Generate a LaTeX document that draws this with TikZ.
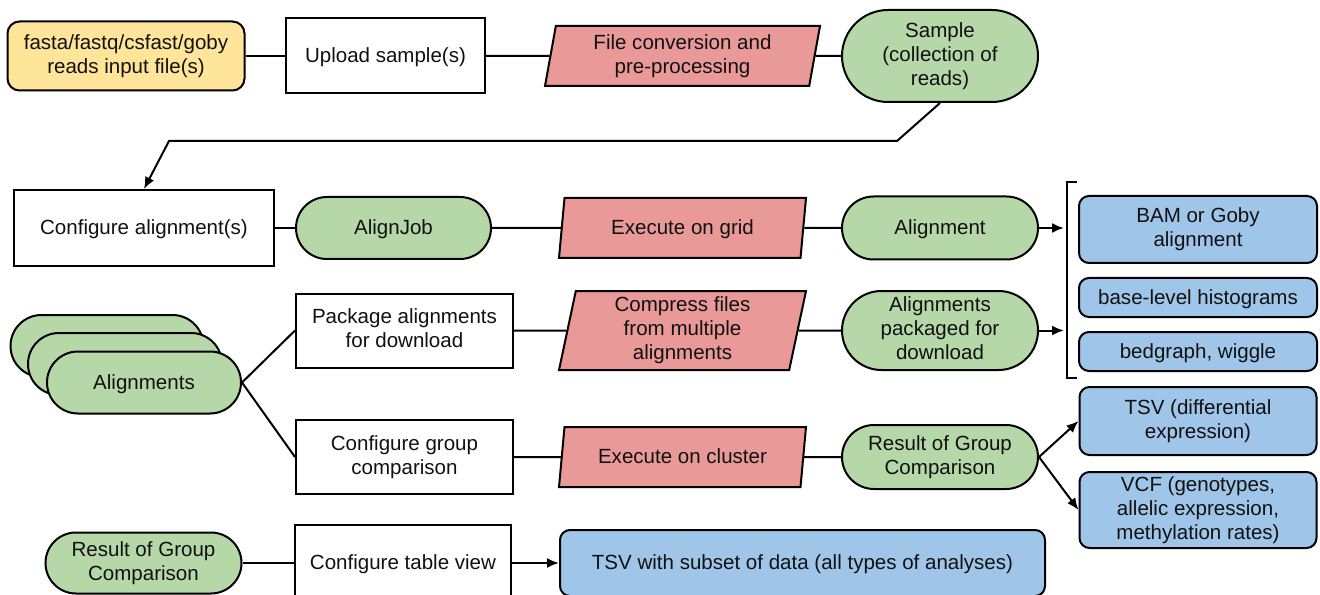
\documentclass[tikz,border=0pt]{standalone}
\usepackage{fontspec}
\setmainfont{Liberation Sans}
\usetikzlibrary{arrows.meta,shapes.geometric}
\definecolor{cyel}{HTML}{FFE599}
\definecolor{cred}{HTML}{EA9999}
\definecolor{cgrn}{HTML}{B6D7A8}
\definecolor{cblu}{HTML}{9FC5E8}
\definecolor{ctxt}{HTML}{111111}
\begin{document}
\begin{tikzpicture}[x=0.75pt,y=-0.75pt,
  every node/.style={font=\fontsize{15.4}{18}\selectfont, align=center, inner sep=0pt, line width=1.5pt, text=ctxt,
    execute at begin node={\rule{0pt}{13.2pt}}, execute at end node={\rule[-3.3pt]{0pt}{0pt}}},
  sz/.style 2 args={minimum width=#1*0.75pt, minimum height=#2*0.75pt},
  inbox/.style={draw, fill=cyel, rounded corners=9pt},
  whitebox/.style={draw, fill=white},
  procbox/.style={draw, fill=cred, trapezium, trapezium left angle=75.96, trapezium right angle=104.04, trapezium stretches body},
  term/.style={draw, fill=cgrn, rounded corners=#1*0.375pt},
  outbox/.style={draw, fill=cblu, rounded corners=7.5pt},
  conn/.style={line width=1.5pt},
  arr/.style={conn, -{Latex[length=9pt,width=7.5pt]}},
]
\useasboundingbox (0,0) rectangle (1320,595);
\fill[white] (0,0) rectangle (1320,595);

% row 1
\node[inbox, sz={237}{69}] (inp) at (126,56) {fasta/fastq/csfast/goby\\reads input file(s)};
\node[whitebox, sz={199}{75}] (up) at (385.5,56) {Upload sample(s)};
\node[procbox, sz={275}{60}] (conv) at (682.5,56) {File conversion and\\pre-processing};
\node[term=92, sz={196}{92}] (samp) at (940,56) {Sample\\(collection of\\reads)};

% row 2
\node[whitebox, sz={260}{76}] (cfg) at (144,228) {Configure alignment(s)};
\node[term=62, sz={195}{62}] (job) at (393.5,228) {AlignJob};
\node[procbox, sz={247}{60}] (grid) at (682.5,228) {Execute on grid};
\node[term=63, sz={196}{63}] (aln) at (940,228) {Alignment};

% outputs of alignment
\node[outbox, sz={238}{67}] (bam) at (1198,229.5) {BAM or Goby\\alignment};
\node[outbox, sz={238}{39}] (hist) at (1198,297.5) {base-level histograms};
\node[outbox, sz={238}{39}] (bed) at (1198,351.5) {bedgraph, wiggle};

% row 3
\node[whitebox, sz={217}{74}] (pkg) at (404.5,330.5) {Package alignments\\for download};
\node[procbox, sz={247}{79}] (cmp) at (682.5,330.5) {Compress files\\from multiple\\alignments};
\node[term=79, sz={196}{79}] (pkd) at (940,330.5) {Alignments\\packaged for\\download};

% stacked alignments
\node[term=62, sz={193}{62}] (al3) at (107,346) {};
\node[term=62, sz={194}{62}] (al2) at (125,364) {};
\node[term=62, sz={194}{62}] (al1) at (144,382.5) {Alignments};

% row 4
\node[whitebox, sz={217}{74}] (cgc) at (404.5,457) {Configure group\\comparison};
\node[procbox, sz={247}{60}] (clu) at (682.5,457) {Execute on cluster};
\node[term=64, sz={196}{64}] (res) at (940,457) {Result of Group\\Comparison};
\node[outbox, sz={237}{68}] (tsv) at (1198,421) {TSV (differential\\expression)};
\node[outbox, sz={237}{76}] (vcf) at (1198,510) {VCF (genotypes,\\allelic expression,\\methylation rates)};

% row 5
\node[term=61, sz={196}{61}] (res2) at (143.5,563) {Result of Group\\Comparison};
\node[whitebox, sz={216}{76}] (tab) at (403,563) {Configure table view};
\node[outbox, sz={485}{66}] (sub) at (802.5,563) {TSV with subset of data (all types of analyses)};

% connector points
\coordinate (k1) at (897,141);
\coordinate (k2) at (169,141);
\coordinate (ba) at (1064,228);
\coordinate (bp) at (1064,330.5);
\coordinate (bt1) at (1077,182);
\coordinate (bt2) at (1067,182);
\coordinate (bb2) at (1067,378);
\coordinate (bb1) at (1077,378);

% connectors
\draw[conn] (inp) -- (up);
\draw[conn] (up) -- (conv);
\draw[conn] (conv) -- (samp);
\draw[arr] (samp.south) -- (k1) -- (k2) -- (cfg.north);
\draw[conn] (cfg) -- (job);
\draw[conn] (job) -- (grid);
\draw[conn] (grid) -- (aln);
\draw[arr] (aln) -- (ba);
\draw[conn] (bt1) -- (bt2) -- (bb2) -- (bb1);
\draw[conn] (al1.east) -- (pkg.west);
\draw[conn] (al1.east) -- (cgc.west);
\draw[conn] (pkg) -- (cmp);
\draw[conn] (cmp) -- (pkd);
\draw[arr] (pkd) -- (bp);
\draw[conn] (cgc) -- (clu);
\draw[conn] (clu) -- (res);
\draw[arr] (res.east) -- (tsv.west);
\draw[arr] (res.east) -- (vcf.west);
\draw[conn] (res2) -- (tab);
\draw[arr] (tab) -- (sub);
\end{tikzpicture}
\end{document}
